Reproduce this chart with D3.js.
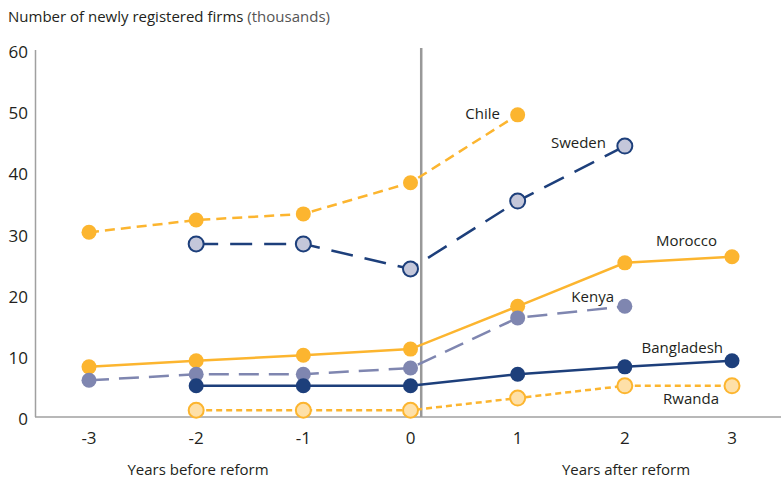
<!DOCTYPE html>
<html>
<head>
<meta charset="utf-8">
<script src="https://cdn.jsdelivr.net/npm/d3@7"></script>
<style>
  body { margin: 0; background: #fff; }
  text { font-family: "Open Sans", sans-serif; fill: #231f20; }
</style>
</head>
<body>
<div id="chart"></div>
<script>
// years relative to the reform
var years = [-3, -2, -1, 0, 1, 2, 3];
var yTicks = [0, 10, 20, 30, 40, 50, 60];

// newly registered firms, thousands (null = no data)
var chile      = [30.2, 32.2, 33.2, 38.3, 49.4, null, null];
var sweden     = [null, 28.3, 28.3, 24.2, 35.3, 44.3, null];
var morocco    = [8.2, 9.2, 10.1, 11.1, 18.1, 25.2, 26.2];
var kenya      = [6.0, 7.0, 7.0, 8.0, 16.2, 18.1, null];
var bangladesh = [null, 5.1, 5.1, 5.1, 7.0, 8.2, 9.2];
var rwanda     = [null, 1.1, 1.1, 1.1, 3.1, 5.1, 5.1];

var yellow = "#fcb52f", navy = "#1d3f7b", slate = "#7f86b0";

var series = [
  { name: "Chile", values: chile, stroke: yellow, fill: yellow, ring: null, dash: "10,6", lx: 500, ly: 119 },
  { name: "Sweden", values: sweden, stroke: navy, fill: "#c4c7da", ring: navy, dash: "22,12", lx: 606, ly: 148 },
  { name: "Morocco", values: morocco, stroke: yellow, fill: yellow, ring: null, dash: null, lx: 717, ly: 246 },
  { name: "Kenya", values: kenya, stroke: slate, fill: slate, ring: null, dash: "20,10", lx: 614, ly: 302 },
  { name: "Bangladesh", values: bangladesh, stroke: navy, fill: navy, ring: null, dash: null, lx: 723, ly: 353 },
  { name: "Rwanda", values: rwanda, stroke: yellow, fill: "#fee0a8", ring: yellow, dash: "6,4", lx: 719, ly: 404 }
];

var width = 781, height = 480;
var svg = d3.select("#chart").append("svg").attr("width", width).attr("height", height);

var x = d3.scaleLinear().domain([-3, 3]).range([89, 732]);
var y = d3.scaleLinear().domain([0, 60]).range([417, 50]);

// title
var title = svg.append("text").attr("x", 8).attr("y", 22).style("font-size", "15px");
title.append("tspan").text("Number of newly registered firms ");
title.append("tspan").style("fill", "#555").text("(thousands)");

// axes lines
svg.append("line").attr("x1", 35.5).attr("x2", 35.5).attr("y1", y(60)).attr("y2", y(0))
  .attr("stroke", "#a0a0a0").attr("stroke-width", 1.5);
svg.append("line").attr("x1", 35).attr("x2", width).attr("y1", y(0)).attr("y2", y(0))
  .attr("stroke", "#a0a0a0").attr("stroke-width", 1.5);

// reform line
svg.append("line").attr("x1", x(0.1)).attr("x2", x(0.1)).attr("y1", 48).attr("y2", y(0))
  .attr("stroke", "#999").attr("stroke-width", 2.5);

// y tick labels
svg.selectAll(".ytick").data(yTicks).enter().append("text")
  .attr("x", 28).attr("y", function (d) { return y(d) + 8; })
  .attr("text-anchor", "end").style("font-size", "17px")
  .text(function (d) { return d; });

// x tick labels
svg.selectAll(".xtick").data(years).enter().append("text")
  .attr("x", function (d) { return x(d); }).attr("y", 444)
  .attr("text-anchor", "middle").style("font-size", "17px")
  .text(function (d) { return d; });

svg.append("text").attr("x", 198).attr("y", 475).attr("text-anchor", "middle")
  .style("font-size", "15px").text("Years before reform");
svg.append("text").attr("x", 626).attr("y", 475).attr("text-anchor", "middle")
  .style("font-size", "15px").text("Years after reform");

var line = d3.line()
  .defined(function (d) { return d[1] != null; })
  .x(function (d) { return x(d[0]); })
  .y(function (d) { return y(d[1]); });

series.forEach(function (s) {
  var pts = years.map(function (yr, i) { return [yr, s.values[i]]; });
  svg.append("path").datum(pts).attr("d", line)
    .attr("fill", "none").attr("stroke", s.stroke).attr("stroke-width", 2.5)
    .attr("stroke-dasharray", s.dash);
});

series.forEach(function (s) {
  var pts = years.map(function (yr, i) { return [yr, s.values[i]]; })
    .filter(function (d) { return d[1] != null; });
  svg.selectAll(null).data(pts).enter().append("circle")
    .attr("cx", function (d) { return x(d[0]); })
    .attr("cy", function (d) { return y(d[1]); })
    .attr("r", 7.5)
    .attr("fill", s.fill)
    .attr("stroke", s.ring || "none")
    .attr("stroke-width", s.ring ? 2 : 0);
  svg.append("text").attr("x", s.lx).attr("y", s.ly).attr("text-anchor", "end")
    .style("font-size", "15px").text(s.name);
});
</script>
</body>
</html>
